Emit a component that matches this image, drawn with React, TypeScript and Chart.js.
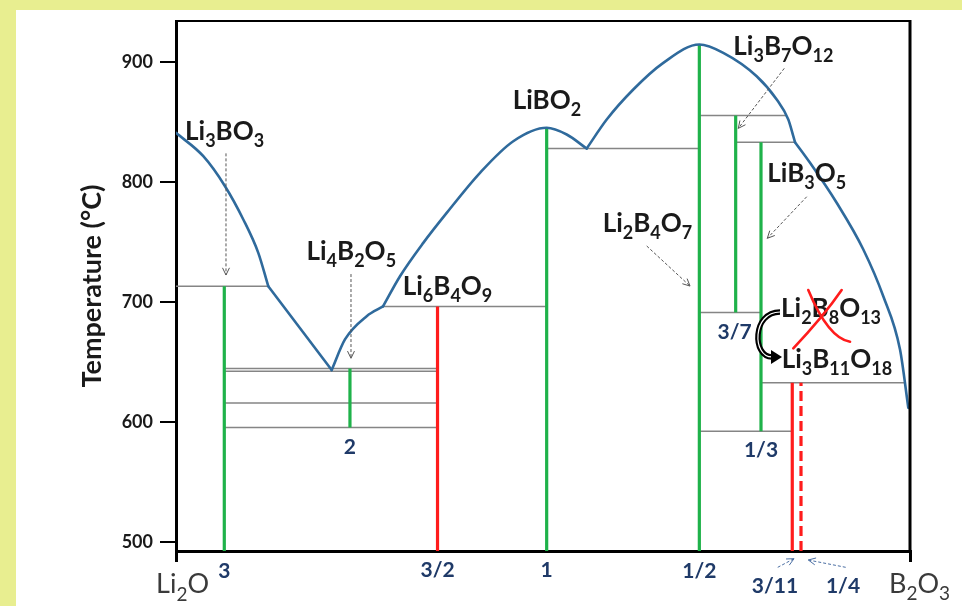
import React, { useEffect, useRef } from 'react';
import { Chart, registerables } from 'chart.js';

Chart.register(...registerables);

type Pt = [number, number];

// Composition runs from Li2O (0) to B2O3 (100) on the diagram's own spacing; temperatures in °C.
const liquidusLi3BO3: Pt[] = [[0, 841], [3.72, 821.5], [6.68, 796.5], [9.17, 768.8], [11.21, 741], [12.57, 713.2]];
const liquidusEutectic: Pt[] = [[12.57, 713.2], [21.21, 643.3]];
const liquidusLi4B2O5: Pt[] = [[21.21, 643.3], [23.02, 668.8], [25.98, 688.2], [28.2, 696.3]];
const liquidusLiBO2: Pt[] = [[28.2, 696.3], [30.52, 721.5], [33.69, 749.3], [36.88, 774.3], [41.42, 807.7], [45.95, 834], [50.5, 845.2], [53.23, 839.6], [55.95, 827.9]];
const liquidusLi2B4O7: Pt[] = [[55.95, 827.9], [58.68, 852.1], [62.3, 877.1], [66.39, 899.3], [71.3, 914.6], [74.56, 907.7], [79.11, 888.2], [81.84, 868.8], [83.42, 852.1], [84.1, 838.2], [84.33, 833.2]];
const liquidusB2O3: Pt[] = [[84.33, 833.2], [86.38, 816], [90.01, 782.7], [93.64, 743.8], [96.36, 704.8], [98.64, 660.4], [99.77, 611.8]];

const tempTicks = [500, 600, 700, 800, 900];
const tempMin = 492.5;
const tempMax = 934.2;

// Compounds on the Li2O–B2O3 join
const compoundRatio = ['3', '2', '3/2', '1', '1/2', '3/7', '1/3', '3/11', '1/4'];
const compoundX = [6.58, 23.7, 35.63, 50.5, 71.3, 76.25, 79.7, 83.96, 85.15];
const compoundTop = [713.2, 644.6, 696.3, 845.2, 914.6, 855.4, 833.2, 632.7, 632.7];
const compoundBottom = [492.5, 595.4, 492.5, 492.5, 492.5, 691.3, 592.3, 492.5, 492.5];
const compoundStatus = ['stable', 'stable', 'metastable', 'stable', 'stable', 'stable', 'stable', 'metastable', 'disputed'];

// Invariant (eutectic / peritectic / solid-state) temperatures and their extent
const invariantT = [713.2, 644.6, 642.3, 615.8, 595.4, 696.3, 827.9, 855.4, 833.2, 691.3, 632.7, 592.3];
const invariantFrom = [0, 6.58, 6.58, 6.58, 6.58, 28.2, 50.5, 71.3, 76.25, 71.3, 79.7, 71.3];
const invariantTo = [12.57, 35.63, 35.63, 35.63, 35.63, 50.5, 71.3, 83.2, 84.33, 79.7, 99.2, 83.96];

// Formula captions (left edge, baseline)
const formulaText = ['Li3BO3', 'Li4B2O5', 'Li6B4O9', 'LiBO2', 'Li2B4O7', 'Li3B7O12', 'LiB3O5', 'Li2B8O13', 'Li3B11O18'];
const formulaX = [1.23, 17.78, 30.89, 45.87, 58.13, 75.93, 80.56, 82.43, 82.52];
const formulaT = [835, 735.4, 705.8, 860.8, 758.6, 905.8, 800.3, 687.3, 644.8];

// Li2O : B2O3 ratio captions (centre)
const ratioX = [6.58, 23.7, 35.63, 50.5, 71.3, 76.1, 79.7, 81.6, 90.87];
const ratioT = [475.3, 579.2, 476.7, 476.7, 475.3, 674.6, 576.3, 462.8, 462.8];

// End members (left edge, baseline)
const endText = ['Li2O', 'B2O3'];
const endX = [-2.72, 97.14];
const endT = [457.3, 457.8];

// Caption pointers
const pointerFrom: Pt[] = [[6.81, 823.9], [23.84, 723.3], [82.87, 894.75], [85.93, 787.75], [64.13, 746.7], [81.98, 478.9], [91.24, 478.9]];
const pointerTo: Pt[] = [[6.81, 722.5], [23.84, 653.1], [76.61, 844.75], [80.56, 753.1], [70.03, 713.3], [84.2, 486.1], [86.15, 485]];
const pointerTone = ['grey', 'grey', 'grey', 'grey', 'grey', 'blue', 'blue'];

// Li2B8O13 → Li3B11O18 reassignment arrow and strike-through
const swapStart: Pt = [82.29, 691.7];
const swapBulgeX = 79.3;
const swapEnd: Pt = [81.2, 654.2];
const strikeA: Pt[] = [[86.14, 710], [88.87, 669.75], [91.83, 666.9]];
const strikeB: Pt[] = [[90.69, 710], [88.19, 687.75], [84.1, 661.4]];

const GREEN = '#1fb24a';
const RED = '#ff1c1c';
const BLUE = '#2f6a9c';
const NAVY = '#1f3a68';
const FONT = 'Lato, "Open Sans", sans-serif';

const toXY = (pts: Pt[]) => pts.map(([x, y]) => ({ x, y }));

function drawFormula(ctx: CanvasRenderingContext2D, text: string, x: number, y: number, size: number, weight: string, color: string) {
  const parts = text.match(/\d+|\D+/g) || [];
  let cx = x;
  ctx.fillStyle = color;
  ctx.textAlign = 'left';
  ctx.textBaseline = 'alphabetic';
  for (const p of parts) {
    const sub = /^\d/.test(p);
    ctx.font = `${weight} ${sub ? Math.round(size * 0.7) : size}px ${FONT}`;
    ctx.fillText(p, cx, sub ? y + size * 0.27 : y);
    cx += ctx.measureText(p).width;
  }
}

function arrowHead(ctx: CanvasRenderingContext2D, x1: number, y1: number, x2: number, y2: number, len: number) {
  const a = Math.atan2(y2 - y1, x2 - x1);
  ctx.beginPath();
  ctx.moveTo(x2 - len * Math.cos(a - 0.45), y2 - len * Math.sin(a - 0.45));
  ctx.lineTo(x2, y2);
  ctx.lineTo(x2 - len * Math.cos(a + 0.45), y2 - len * Math.sin(a + 0.45));
  ctx.stroke();
}

const backdrop = {
  id: 'backdrop',
  beforeDraw(chart: Chart) {
    const { ctx, width, height } = chart;
    ctx.save();
    ctx.fillStyle = '#ffffff';
    ctx.fillRect(0, 0, width, height);
    ctx.fillStyle = '#e8ee90';
    ctx.fillRect(0, 0, width, 10);
    ctx.fillRect(0, 0, 16, height);
    ctx.restore();
  },
};

const annotations = {
  id: 'annotations',
  afterDraw(chart: Chart) {
    const { ctx, chartArea } = chart;
    const xs = chart.scales.x;
    const ys = chart.scales.y;
    const px = (v: number) => xs.getPixelForValue(v);
    const py = (v: number) => ys.getPixelForValue(v);
    ctx.save();

    // frame: top and right edges
    ctx.strokeStyle = '#000';
    ctx.lineWidth = 2;
    ctx.beginPath();
    ctx.moveTo(chartArea.left, chartArea.top);
    ctx.lineTo(chartArea.right, chartArea.top);
    ctx.stroke();
    ctx.lineWidth = 3;
    ctx.beginPath();
    ctx.moveTo(chartArea.right, chartArea.top - 1);
    ctx.lineTo(chartArea.right, chartArea.bottom);
    ctx.stroke();

    // pointers
    pointerFrom.forEach((f, i) => {
      const x1 = px(f[0]), y1 = py(f[1]), x2 = px(pointerTo[i][0]), y2 = py(pointerTo[i][1]);
      ctx.strokeStyle = pointerTone[i] === 'blue' ? '#4a6ea3' : '#555555';
      ctx.lineWidth = 1;
      ctx.setLineDash([3, 2]);
      ctx.beginPath();
      ctx.moveTo(x1, y1);
      ctx.lineTo(x2, y2);
      ctx.stroke();
      ctx.setLineDash([]);
      arrowHead(ctx, x1, y1, x2, y2, 8);
    });

    // formula captions
    formulaText.forEach((t, i) => drawFormula(ctx, t, px(formulaX[i]), py(formulaT[i]), 26, 'bold', '#1a1a1a'));

    // ratio captions
    ctx.fillStyle = NAVY;
    ctx.font = `bold 21px ${FONT}`;
    ctx.textAlign = 'center';
    ctx.textBaseline = 'middle';
    compoundRatio.forEach((t, i) => ctx.fillText(t, px(ratioX[i]), py(ratioT[i])));

    // end members
    endText.forEach((t, i) => drawFormula(ctx, t, px(endX[i]), py(endT[i]), 27, 'normal', '#3a3a3a'));

    // strike-through of Li2B8O13
    ctx.strokeStyle = RED;
    ctx.lineWidth = 2.6;
    ctx.lineCap = 'round';
    [strikeA, strikeB].forEach((s) => {
      ctx.beginPath();
      ctx.moveTo(px(s[0][0]), py(s[0][1]));
      ctx.quadraticCurveTo(px(s[1][0]), py(s[1][1]), px(s[2][0]), py(s[2][1]));
      ctx.stroke();
    });

    // curved reassignment arrow
    const sx = px(swapStart[0]), sy = py(swapStart[1]);
    const ex = px(swapEnd[0]), ey = py(swapEnd[1]);
    const bx = px(swapBulgeX);
    const path = () => {
      ctx.beginPath();
      ctx.moveTo(sx, sy);
      ctx.bezierCurveTo(bx - 6, sy, bx - 6, ey, ex, ey);
    };
    ctx.lineCap = 'butt';
    ctx.strokeStyle = '#000';
    ctx.lineWidth = 5.5;
    path();
    ctx.stroke();
    ctx.strokeStyle = '#ffffff';
    ctx.lineWidth = 1.2;
    path();
    ctx.stroke();
    ctx.fillStyle = '#000';
    ctx.beginPath();
    ctx.moveTo(ex + 10, ey);
    ctx.lineTo(ex - 1, ey - 7);
    ctx.lineTo(ex - 1, ey + 7);
    ctx.closePath();
    ctx.fill();

    ctx.restore();
  },
};

export default function App() {
  const canvasRef = useRef<HTMLCanvasElement | null>(null);

  useEffect(() => {
    if (!canvasRef.current) return;

    const liquidus = [liquidusLi3BO3, liquidusEutectic, liquidusLi4B2O5, liquidusLiBO2, liquidusLi2B4O7, liquidusB2O3].map((pts) => ({
      data: toXY(pts),
      showLine: true,
      borderColor: BLUE,
      borderWidth: 2.6,
      pointRadius: 0,
      cubicInterpolationMode: 'monotone' as const,
      borderCapStyle: 'round' as const,
    }));

    const compounds = compoundX.map((cx, i) => ({
      data: [{ x: cx, y: compoundBottom[i] }, { x: cx, y: compoundTop[i] }],
      showLine: true,
      borderColor: compoundStatus[i] === 'stable' ? GREEN : RED,
      borderWidth: 3.2,
      borderDash: compoundStatus[i] === 'disputed' ? [10, 5] : [],
      pointRadius: 0,
    }));

    const invariants = invariantT.map((t, i) => ({
      data: [{ x: invariantFrom[i], y: t }, { x: invariantTo[i], y: t }],
      showLine: true,
      borderColor: '#858585',
      borderWidth: 1.5,
      pointRadius: 0,
    }));

    const chart = new Chart(canvasRef.current, {
      type: 'scatter',
      data: { datasets: [...liquidus, ...compounds, ...invariants] as any },
      options: {
        animation: false,
        responsive: false,
        maintainAspectRatio: false,
        layout: { padding: { top: 21, right: 52, bottom: 0, left: 0 } },
        plugins: { legend: { display: false }, tooltip: { enabled: false } },
        scales: {
          x: {
            type: 'linear',
            min: 0,
            max: 100,
            position: 'bottom',
            afterBuildTicks: (s: any) => {
              s.ticks = [{ value: 0 }, { value: 100 }];
            },
            afterFit: (s: any) => {
              s.height = 55;
            },
            ticks: { display: false },
            grid: { drawOnChartArea: false, drawTicks: true, tickLength: 11, color: '#000', lineWidth: 3 },
            border: { display: true, color: '#000', width: 3 },
          },
          y: {
            type: 'linear',
            min: tempMin,
            max: tempMax,
            position: 'left',
            afterBuildTicks: (s: any) => {
              s.ticks = tempTicks.map((v) => ({ value: v }));
            },
            afterFit: (s: any) => {
              s.width = 176;
            },
            ticks: { color: '#1a1a1a', font: { family: FONT, size: 18, weight: 'bold' }, padding: 7 },
            grid: { drawOnChartArea: false, drawTicks: true, tickLength: 16, color: '#000', lineWidth: 2 },
            border: { display: true, color: '#000', width: 3 },
            title: {
              display: true,
              text: 'Temperature (°C)',
              color: '#1a1a1a',
              font: { family: FONT, size: 27, weight: 'bold' },
              padding: { top: 76, bottom: 0 },
            },
          },
        },
      },
      plugins: [backdrop, annotations],
    });

    return () => chart.destroy();
  }, []);

  return (
    <div style={{ position: 'absolute', left: 0, top: 0, width: 962, height: 606 }}>
      <canvas ref={canvasRef} width={962} height={606} style={{ display: 'block', width: 962, height: 606 }} />
    </div>
  );
}
